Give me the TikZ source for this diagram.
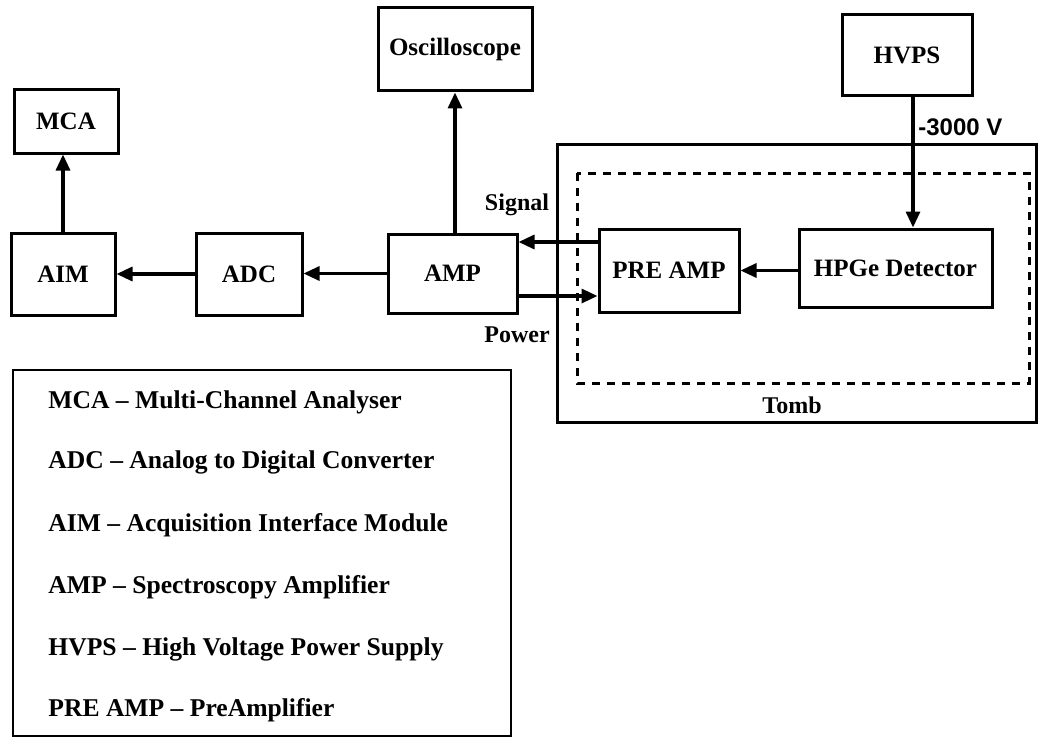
\documentclass[tikz,border=0pt]{standalone}
\usepackage{fontspec}
\setmainfont{Liberation Serif}
\newfontfamily\voltfont{Liberation Sans}
\usetikzlibrary{arrows.meta}

\begin{document}
\begin{tikzpicture}[x=0.5pt,y=-0.5pt,
	blk/.style={draw,line width=1.5pt,inner sep=0pt,font=\bfseries\fontsize{12.5}{15}\selectfont},
	arr/.style={line width=1.6pt,-{Triangle[length=8pt,width=7pt]}},
	lbl/.style={font=\bfseries\fontsize{12}{14}\selectfont},
	leg/.style={anchor=base west,inner sep=0pt,font=\bfseries\fontsize{12.8}{15}\selectfont}]

	\useasboundingbox (0,0) rectangle (1038,738);

	% tomb and shielding
	\draw[line width=1.5pt] (557,144) rectangle (1036,422);
	\draw[line width=1.5pt, dash pattern=on 4pt off 3.5pt] (577,173) rectangle (1029,383);
	\node (Tomb)[lbl] at (792,405) {Tomb};

	\node (MCA)[blk,minimum width=52pt,minimum height=31.5pt] at (66,121.5) {MCA};
	\node (AIM)[blk,minimum width=52pt,minimum height=41pt] at (63,274) {AIM};
	\node (ADC)[blk,minimum width=53pt,minimum height=41pt] at (249,274) {ADC};
	\node (AMP)[blk,minimum width=64.5pt,minimum height=39.5pt] at (452.5,273.5) {AMP};
	\node (Osc)[blk,minimum width=77pt,minimum height=41.5pt] at (455,49.5) {Oscilloscope};
	\node (PRE)[blk,minimum width=70pt,minimum height=41.5pt] at (669,270.5) {PRE AMP};
	\node (HPGe)[blk,minimum width=96.5pt,minimum height=39pt] at (895.5,268) {HPGe Detector};
	\node (HVPS)[blk,minimum width=65pt,minimum height=40.5pt] at (907,55.5) {HVPS};

	\coordinate (sig) at (599,242);
	\coordinate (pow) at (517,296);

	\draw [arr] (AIM.north) to (AIM.north |- MCA.south);
	\draw [arr] (ADC.west) to (AIM.east);
	\draw [arr] (AMP.west) to (AMP.west -| ADC.east);
	\draw [arr] (Osc.south |- AMP.north) to (Osc.south);
	\draw [arr] (sig) to (sig -| AMP.east);
	\draw [arr] (pow) to (pow -| PRE.west);
	\draw [arr] (HPGe.west |- PRE.east) to (PRE.east);
	\draw [arr] ([xshift=3pt]HVPS.south) to ([xshift=3pt]HVPS.south |- HPGe.north);

	\node (Sig)[lbl] at (517,205) {Signal};
	\node (Pow)[lbl] at (517,335) {Power};
	\node (Volt)[anchor=west,inner sep=0pt,font=\voltfont\bfseries\fontsize{12}{14}\selectfont] at (918,127) {-3000 V};

	% legend
	\draw[line width=1.3pt] (13,370) rectangle (511,736);
	\node (L1)[leg] at (48,408) {MCA -- Multi-Channel Analyser};
	\node (L2)[leg] at (48,468) {ADC -- Analog to Digital Converter};
	\node (L3)[leg] at (48,531) {AIM -- Acquisition Interface Module};
	\node (L4)[leg] at (48,593) {AMP -- Spectroscopy Amplifier};
	\node (L5)[leg] at (48,655) {HVPS -- High Voltage Power Supply};
	\node (L6)[leg] at (48,716) {PRE AMP -- PreAmplifier};

\end{tikzpicture}
\end{document}
